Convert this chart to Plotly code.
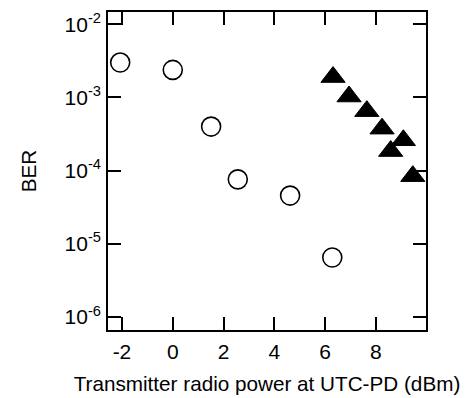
import plotly.graph_objects as go

circle_x = [-2.07, 0.0, 1.51, 2.56, 4.62, 6.28]
circle_ber = [3.0e-3, 2.38e-3, 4.0e-4, 7.6e-5, 4.56e-5, 6.5e-6]

tri_x = [6.31, 6.94, 7.64, 8.24, 8.58, 9.08, 9.45]
tri_ber = [1.9e-3, 1.03e-3, 6.5e-4, 3.75e-4, 1.85e-4, 2.6e-4, 8.4e-5]

x_ticks = [-2, 0, 2, 4, 6, 8]
y_ticks = [1e-6, 1e-5, 1e-4, 1e-3, 1e-2]
y_ticktext = ["10<sup>-6</sup>", "10<sup>-5</sup>", "10<sup>-4</sup>", "10<sup>-3</sup>", "10<sup>-2</sup>"]
x_ticktext = ["-2", "0", "2", "4", "6", "8"]

font_family = "Liberation Sans, Arial, sans-serif"

fig = go.Figure()
fig.add_trace(go.Scatter(
    x=circle_x, y=circle_ber, mode="markers",
    marker=dict(symbol="circle-open", size=19, color="black", line=dict(width=1.6, color="black")),
    showlegend=False,
))
fig.add_trace(go.Scatter(
    x=tri_x, y=tri_ber, mode="markers",
    marker=dict(symbol="triangle-up", size=21, color="black", line=dict(width=1, color="black")),
    showlegend=False,
))

axis_common = dict(
    showline=True, linecolor="black", linewidth=1.6, mirror="allticks",
    ticks="inside", ticklen=13, tickwidth=1.6, tickcolor="black",
    showgrid=False, zeroline=False, automargin=False,
    tickfont=dict(family=font_family, size=21, color="black"),
    title_font=dict(family=font_family, size=20.7, color="black"),
)

fig.update_xaxes(
    range=[-2.55, 9.97], tickmode="array", tickvals=x_ticks, ticktext=x_ticktext,
    title_text="Transmitter radio power at UTC-PD (dBm)", title_standoff=15,
    ticklabelstandoff=2,
    **axis_common,
)
fig.update_yaxes(
    type="log", range=[-6.178, -1.832], tickmode="array", tickvals=y_ticks, ticktext=y_ticktext,
    title_text="BER", title_standoff=22, ticklabelstandoff=1,
    **axis_common,
)

# page body has an 8px margin, so the figure is sized to fit the 470x398 window
fig.update_layout(
    width=462, height=390,
    margin=dict(l=100, r=44, t=4, b=68),
    plot_bgcolor="white", paper_bgcolor="white",
    font=dict(family=font_family, size=20, color="black"),
)

fig.write_html("out.html")
